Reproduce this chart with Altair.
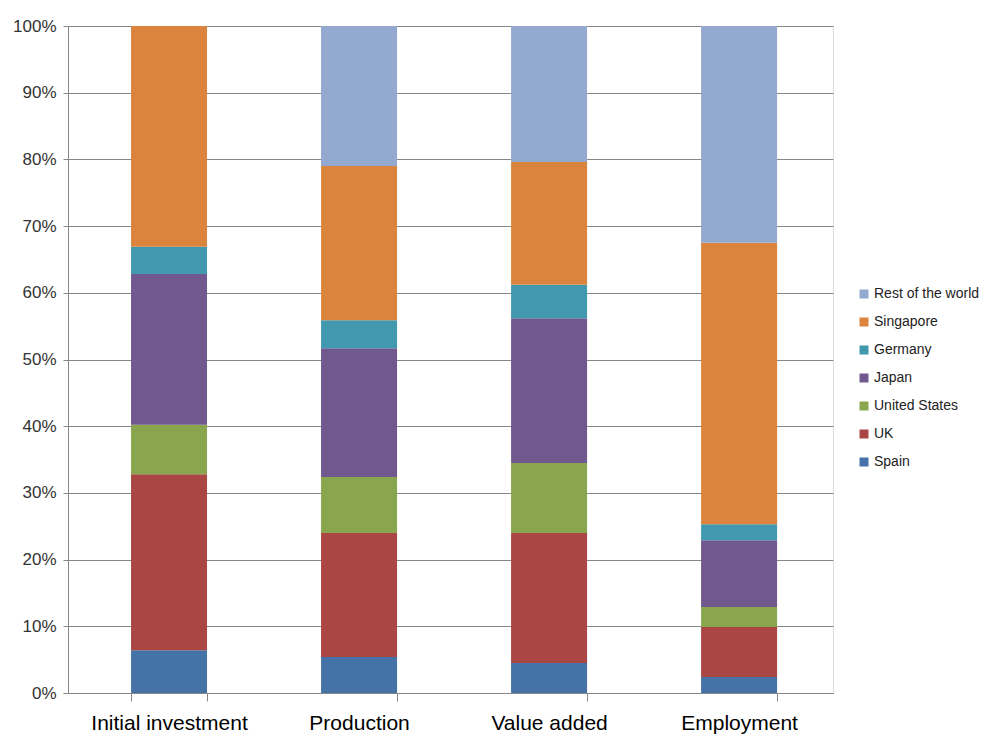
import altair as alt
import pandas as pd

categories = ["Initial investment", "Production", "Value added", "Employment"]
series = ["Spain", "UK", "United States", "Japan", "Germany", "Singapore", "Rest of the world"]
colors = ["#4572A7", "#AA4643", "#89A54E", "#71588F", "#4198AF", "#DB843D", "#93A9CF"]
values = {
    "Spain":             [6.4, 5.4, 4.5, 2.4],
    "UK":                [26.4, 18.6, 19.5, 7.5],
    "United States":     [7.4, 8.4, 10.5, 3.0],
    "Japan":             [22.6, 19.3, 21.7, 10.0],
    "Germany":           [4.1, 4.2, 5.0, 2.4],
    "Singapore":         [33.1, 23.1, 18.4, 42.2],
    "Rest of the world": [0.0, 21.0, 20.4, 32.5],
}

rows = []
for si, s in enumerate(series):
    for ci, c in enumerate(categories):
        rows.append({"category": c, "series": s, "value": values[s][ci], "rank": si})
df = pd.DataFrame(rows)

W, H = 765, 667
FONT = "Liberation Sans"

bars = alt.Chart(df).mark_bar(size=76).encode(
    x=alt.X("category:N", sort=categories, title=None,
            scale=alt.Scale(paddingInner=0.6, paddingOuter=0.313, align=0.53),
            axis=alt.Axis(labelAngle=0, labelFontSize=21, labelColor="#000000",
                          labelFont=FONT, labelPadding=11,
                          tickBand="extent", tickSize=8, tickColor="#868686",
                          domainColor="#868686", grid=False)),
    y=alt.Y("value:Q", stack="normalize", title=None,
            scale=alt.Scale(domain=[0, 1]),
            axis=alt.Axis(format=".0%", values=[i / 10 for i in range(11)],
                          labelFontSize=17, labelColor="#333333",
                          labelFont=FONT, labelPadding=7,
                          tickSize=5, tickColor="#868686", domainColor="#868686",
                          gridColor="#868686", gridWidth=1)),
    color=alt.Color("series:N",
                    scale=alt.Scale(domain=series[::-1], range=colors[::-1]),
                    legend=alt.Legend(title=None, orient="none", legendX=789, legendY=261,
                                      symbolType="square", symbolSize=81, symbolStrokeWidth=0,
                                      labelFontSize=14, labelFont=FONT, labelLimit=200,
                                      labelColor="#222222", rowPadding=14, labelOffset=3)),
    order=alt.Order("rank:Q", sort="ascending"),
)

chart = bars.properties(
    width=W, height=H,
    autosize=alt.AutoSizeParams(type="none"),
    padding={"left": 68, "top": 26, "right": 153, "bottom": 42},
).configure_view(stroke=None).configure(background="#ffffff")

chart.save("out.html", embed_options={"renderer": "svg", "actions": False})
